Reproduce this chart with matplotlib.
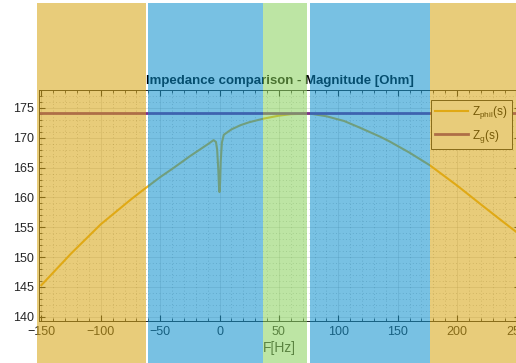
import numpy as np
import matplotlib
matplotlib.use('Agg')
import matplotlib.pyplot as plt
from matplotlib.patches import Rectangle
from matplotlib.ticker import MultipleLocator

plt.rcParams['font.family'] = ['Liberation Sans', 'DejaVu Sans']
plt.rcParams['mathtext.default'] = 'regular'

# values
freq = [-150, -125, -100, -75, -66, -50, -39, -25, -10, -5, -3, -2, -1, -0.5, 0,
        0.5, 1, 2, 3.6, 10, 17.6, 25, 37, 50, 60, 76, 90, 105, 118, 135, 143,
        160, 177, 200, 219, 235, 250]
z_phil = [145.3, 150.6, 155.5, 159.6, 161.0, 163.4, 164.9, 166.9, 168.9, 169.6, 169.3,
          168.0, 164.5, 162.0, 160.9, 162.5, 166.0, 169.2, 170.5, 171.4, 172.1, 172.6,
          173.2, 173.7, 173.95, 174.05, 173.6, 172.8, 171.7, 170.2, 169.4, 167.5,
          165.4, 162.0, 159.0, 156.5, 154.2]
z_g_level = 174.2
xticks = [-150, -100, -50, 0, 50, 100, 150, 200, 250]
yticks = [140, 145, 150, 155, 160, 165, 170, 175]

W, H = 516, 363
fig = plt.figure(figsize=(W / 100, H / 100), dpi=100)
ax = fig.add_axes([39 / W, 1 - 321 / H, 481 / W, 231 / H])

xs = np.array(freq, dtype=float)
ax.plot(xs, z_phil, color=(0.929, 0.694, 0.125), lw=1.5, label='$Z_{phil}(s)$')
ax.plot([-152, 253], [z_g_level, z_g_level], color=(0.494, 0.184, 0.556), lw=2,
        label='$Z_g(s)$')

ax.set_xlim(-152, 253)
ax.set_ylim(139.3, 178)
ax.set_xticks(xticks)
ax.set_yticks(yticks)
ax.xaxis.set_minor_locator(MultipleLocator(10))
ax.yaxis.set_minor_locator(MultipleLocator(1))
ax.grid(True, which='major', color=(0.15, 0.15, 0.15), alpha=0.15, lw=0.6)
ax.grid(True, which='minor', color=(0.15, 0.15, 0.15), alpha=0.3, lw=0.6,
        linestyle=(0, (1, 3)))
ax.tick_params(which='both', direction='in', top=True, right=True,
               colors=(0.15, 0.15, 0.15), labelsize=9)
ax.tick_params(which='major', length=4)
ax.tick_params(which='minor', length=2)
for s in ax.spines.values():
    s.set_color((0.15, 0.15, 0.15))
    s.set_linewidth(0.7)

ax.set_title('Impedance comparison - Magnitude [Ohm]', fontsize=9.5,
             fontweight='bold', pad=4)
ax.set_xlabel('F[Hz]', fontsize=10, color=(0.15, 0.15, 0.15), labelpad=2)

leg = ax.legend(loc='upper right', bbox_to_anchor=((512 - 39) / 481, 1 - 10 / 231),
                borderaxespad=0, fontsize=8.5, handlelength=2.8, handletextpad=0.4,
                fancybox=False, framealpha=1, edgecolor=(0.15, 0.15, 0.15),
                borderpad=0.35, labelspacing=0.55)
leg.get_frame().set_linewidth(0.7)

# translucent bands laid over the whole figure
a = 0.55
bands = [(37, 146, (0.84, 0.64, 0.05)),
         (148, 263, (0.04, 0.56, 0.80)),
         (263, 307, (0.53, 0.82, 0.35)),
         (310, 430, (0.04, 0.56, 0.80)),
         (430, 516, (0.84, 0.64, 0.05))]
for x0, x1, c in bands:
    fig.add_artist(Rectangle((x0 / W, 0), (x1 - x0) / W, 1 - 3 / H,
                             transform=fig.transFigure, facecolor=c, alpha=a,
                             edgecolor='none', zorder=10))

fig.savefig('out.png', dpi=100)
